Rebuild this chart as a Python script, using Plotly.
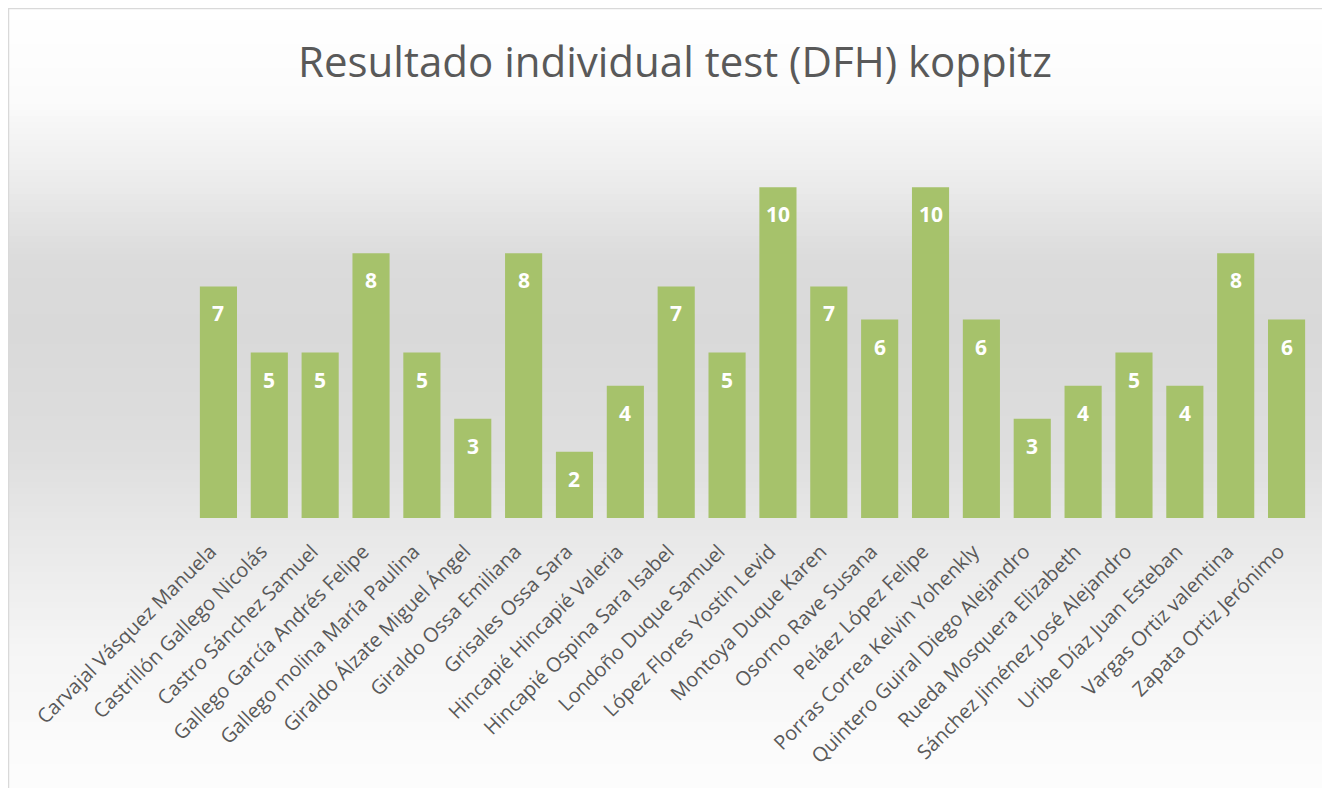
import plotly.graph_objects as go

names = [
    "Carvajal Vásquez Manuela", "Castrillón Gallego Nicolás", "Castro Sánchez Samuel",
    "Gallego García Andrés Felipe", "Gallego molina María Paulina", "Giraldo Álzate Miguel Ángel",
    "Giraldo Ossa Emiliana", "Grisales Ossa Sara", "Hincapié Hincapié Valeria",
    "Hincapié Ospina Sara Isabel", "Londoño Duque Samuel", "López Flores Yostin Levid",
    "Montoya Duque Karen", "Osorno Rave Susana", "Peláez López Felipe",
    "Porras Correa Kelvin Yohenkly", "Quintero Guiral Diego Alejandro", "Rueda Mosquera Elizabeth",
    "Sánchez Jiménez José Alejandro", "Uribe Díaz Juan Esteban", "Vargas Ortiz valentina",
    "Zapata Ortiz Jerónimo",
]
scores = [7, 5, 5, 8, 5, 3, 8, 2, 4, 7, 5, 10, 7, 6, 10, 6, 3, 4, 5, 4, 8, 6]

title_text = "Resultado individual test (DFH) koppitz"

W, H = 1330, 788
OFF = 8  # page body margin offset
PLOT_LEFT, PLOT_RIGHT = 193 - OFF, 1312 - OFF
PLOT_TOP, PLOT_BOTTOM = 121 - OFF, 518 - OFF
PH = PLOT_BOTTOM - PLOT_TOP


def py2paper(py):
    py = py - OFF
    return (PLOT_BOTTOM - py) / PH


def px2paper(px):
    px = px - OFF
    return (px - PLOT_LEFT) / (PLOT_RIGHT - PLOT_LEFT)


# background gradient stops (screen pixel y, gray level)
stops = [(8, 255), (100, 251), (170, 238), (260, 219), (330, 217), (450, 222),
         (550, 234), (650, 245), (750, 251), (800, 253)]


def gray_at(y):
    for (y0, g0), (y1, g1) in zip(stops[:-1], stops[1:]):
        if y0 <= y <= y1:
            t = (y - y0) / (y1 - y0)
            return g0 + (g1 - g0) * t
    return stops[-1][1]


shapes = []
step = 6
y = 8
while y < 810:
    g = int(round(gray_at(y + step / 2)))
    shapes.append(dict(
        type="rect", xref="paper", yref="paper",
        x0=px2paper(8), x1=px2paper(1345),
        y0=py2paper(y + step + 0.5), y1=py2paper(y),
        fillcolor=f"rgb({g},{g},{g})", line=dict(width=0), layer="below",
    ))
    y += step

# frame border
shapes.append(dict(
    type="rect", xref="paper", yref="paper",
    x0=px2paper(8.5), x1=px2paper(1350),
    y0=py2paper(820), y1=py2paper(8.5),
    fillcolor="rgba(0,0,0,0)", line=dict(color="#d9d9d9", width=1.5), layer="below",
))

fig = go.Figure()
fig.add_trace(go.Bar(
    x=names, y=scores,
    marker=dict(color="#a6c26b", line=dict(width=0)),
    hoverinfo="x+y",
))

annotations = [
    dict(x=n, y=s, xref="x", yref="y", text=f"<b>{s}</b>", showarrow=False,
         yanchor="middle", xanchor="center", yshift=-27,
         font=dict(family="Open Sans", size=21, color="white"))
    for n, s in zip(names, scores)
]

fig.update_layout(
    width=W, height=H,
    margin=dict(l=PLOT_LEFT, r=W - PLOT_RIGHT, t=PLOT_TOP, b=H - PLOT_BOTTOM, autoexpand=False),
    paper_bgcolor="white",
    plot_bgcolor="rgba(0,0,0,0)",
    bargap=0.27,
    showlegend=False,
    shapes=shapes,
    annotations=annotations,
    title=dict(
        text=title_text, x=(675 - OFF) / W, xref="container", xanchor="center",
        y=1 - (62 - OFF) / H, yref="container", yanchor="middle",
        font=dict(family="Open Sans", size=42, color="#595959"),
    ),
    xaxis=dict(
        tickangle=-45, showgrid=False, zeroline=False, showline=False,
        ticks="", ticklabelstandoff=17, ticklabelshift=-8,
        tickfont=dict(family="Open Sans", size=20, color="#595959"),
        fixedrange=True, automargin=False,
    ),
    yaxis=dict(
        range=[0, 12], visible=False, showgrid=False, zeroline=False,
        fixedrange=True, automargin=False,
    ),
    font=dict(family="Open Sans"),
)

fig.write_html("out.html")
